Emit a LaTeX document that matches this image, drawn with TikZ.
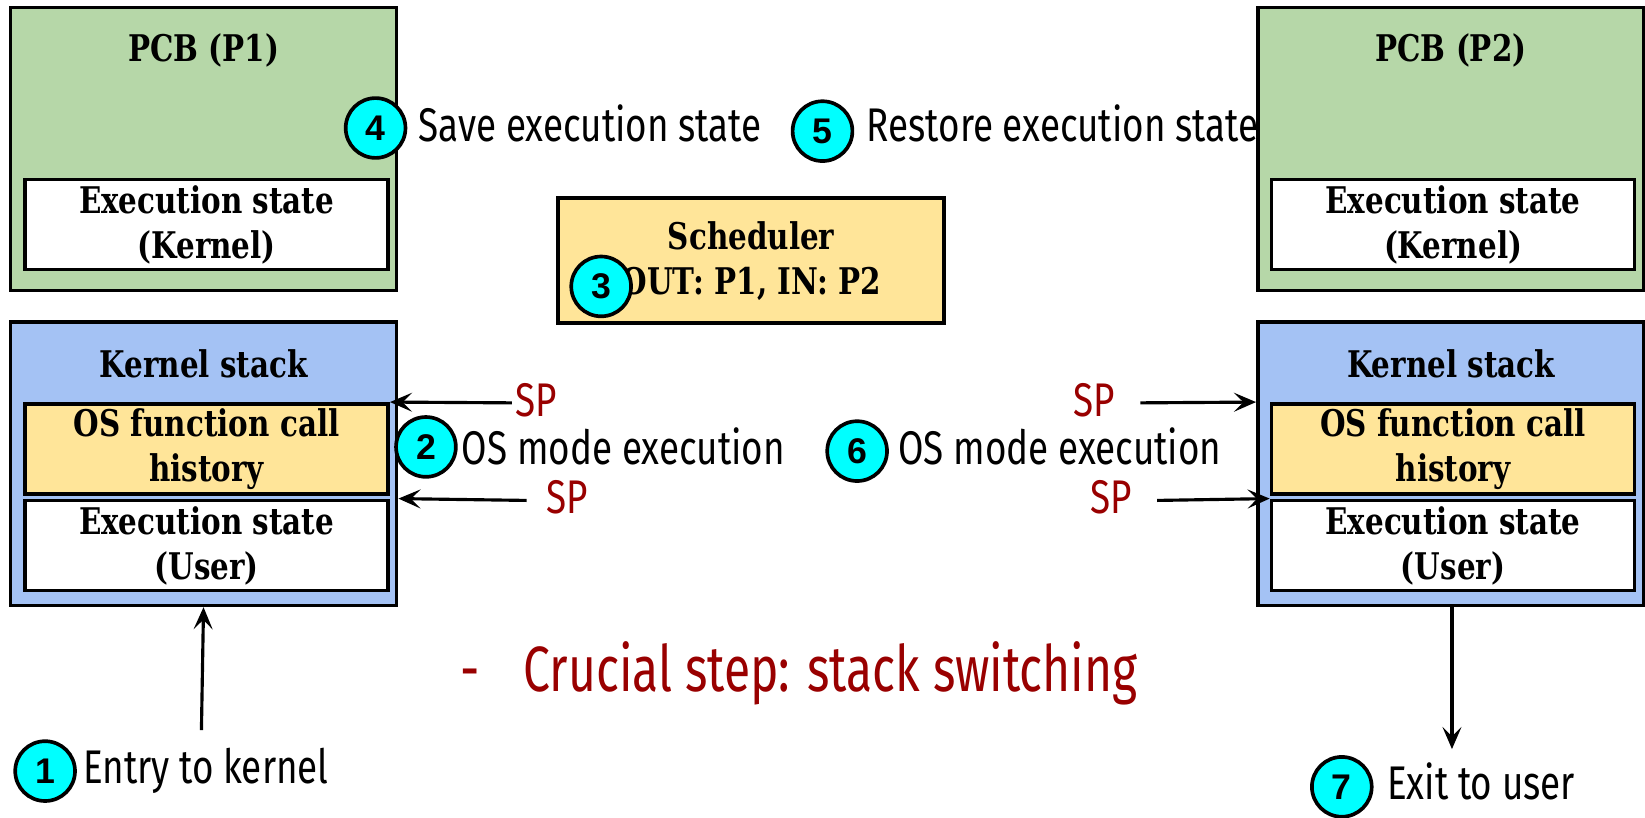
\documentclass[tikz,border=0pt]{standalone}
\usepackage{fontspec}
\usetikzlibrary{arrows.meta}
\newfontfamily\boxfont[FakeStretch=0.8]{DejaVu Serif}
\newfontfamily\annfont[FakeStretch=0.78]{Fira Sans}
\newfontfamily\bigfont[FakeStretch=0.75]{Fira Sans}
\newfontfamily\numfont{Liberation Sans}
\definecolor{pcbgreen}{HTML}{B6D7A8}
\definecolor{stackblue}{HTML}{A4C2F4}
\definecolor{histyellow}{HTML}{FFE599}
\definecolor{stepcyan}{HTML}{00FFFF}
\definecolor{spred}{HTML}{990000}
\tikzset{
 bigbox/.style={draw, line width=3.5pt, inner sep=0pt, minimum width=368pt, minimum height=270pt},
 pcbbox/.style={bigbox, fill=pcbgreen},
 stackbox/.style={bigbox, fill=stackblue},
 boxlabel/.style={font=\boxfont\bfseries\fontsize{35}{43}\selectfont},
 innerbox/.style={boxlabel, draw, line width=3.5pt, minimum width=346pt, minimum height=86pt, inner sep=0pt, align=center},
 statebox/.style={innerbox, fill=white},
 histbox/.style={innerbox, fill=histyellow},
 boxtitle/.style={boxlabel, inner sep=0pt},
 schedbox/.style={boxlabel, draw, line width=3.5pt, fill=histyellow, minimum width=368pt, minimum height=119pt, inner sep=0pt, align=center},
 stepnum/.style={circle, draw, line width=3.5pt, fill=stepcyan, minimum size=57pt, inner sep=0pt, font=\numfont\bfseries\fontsize{34}{34}\selectfont},
 ann/.style={font=\annfont\fontsize{45}{54}\selectfont, inner sep=0pt, anchor=base west},
 sptext/.style={ann, text=spred},
 bigred/.style={ann, text=spred, font=\bigfont\fontsize{61}{70}\selectfont},
 arr/.style={line width=3pt, -{Stealth[length=21pt,width=18pt,inset=9pt]}},
}
\begin{document}
\begin{tikzpicture}[x=1pt,y=-1pt]
\useasboundingbox[fill=white] (0,0) rectangle (1568,779);
% left column
\node[pcbbox] (pcbL) at (194,142) {};
\node[boxtitle] (pcbLt) at (194,48) {PCB (P1)};
\node[statebox] (ekL) at (197,214) {Execution state\\(Kernel)};
\node[stackbox] (ksL) at (194,442) {};
\node[boxtitle] (ksLt) at (194,347) {Kernel stack};
\node[histbox] (hL) at (197,428) {OS function call\\history};
\node[statebox] (euL) at (197,520) {Execution state\\(User)};
% right column
\node[pcbbox] (pcbR) at (1383,142) {};
\node[boxtitle] (pcbRt) at (1383,48) {PCB (P2)};
\node[statebox] (ekR) at (1385,214) {Execution state\\(Kernel)};
\node[stackbox] (ksR) at (1383,442) {};
\node[boxtitle] (ksRt) at (1383,347) {Kernel stack};
\node[histbox] (hR) at (1385,428) {OS function call\\history};
\node[statebox] (euR) at (1385,520) {Execution state\\(User)};
% scheduler
\node[schedbox] (sched) at (716,248.5) {Scheduler\\OUT: P1, IN: P2};
% annotations
\node[ann] (t4) at (399,135) {Save execution state};
\node[ann] (t5) at (826,135) {Restore execution state};
\node[ann] (t2) at (440,443) {OS mode execution};
\node[ann] (t6) at (856,443) {OS mode execution};
\node[ann] (t1) at (79,747) {Entry to kernel};
\node[ann] (t7) at (1322,762) {Exit to user};
\node[sptext] (spA) at (491,397) {SP};
\node[sptext] (spB) at (521,489) {SP};
\node[sptext] (spC) at (1023,397) {SP};
\node[sptext] (spD) at (1039,489) {SP};
\node[bigred] (dash) at (439,659) {-};
\node[bigred] (crucial) at (499,659) {Crucial step: stack switching};
% arrows
\coordinate (aA) at (488,384);
\coordinate (aB) at (502,477);
\coordinate (aC) at (1087,384);
\coordinate (aD) at (1103,477);
\coordinate (a1) at (192,696);
\coordinate (a7) at (1384,714);
\draw[arr] (aA) -- (hL.north east);
\draw[arr] (aB) -- (ksL.east |- euL.north);
\draw[arr] (aC) -- (ksR.west |- hR.north);
\draw[arr] (aD) -- (euR.north west);
\draw[arr] (a1) -- (ksL.south);
\draw[arr] (ksR.south -| a7) -- (a7);
% step numbers
\node[stepnum] (n1) at (43,735) {1};
\node[stepnum] (n2) at (406,426) {2};
\node[stepnum] (n3) at (573,273) {3};
\node[stepnum] (n4) at (358,122) {4};
\node[stepnum] (n5) at (784,125) {5};
\node[stepnum] (n6) at (817,430) {6};
\node[stepnum] (n7) at (1279,750) {7};
\end{tikzpicture}
\end{document}
